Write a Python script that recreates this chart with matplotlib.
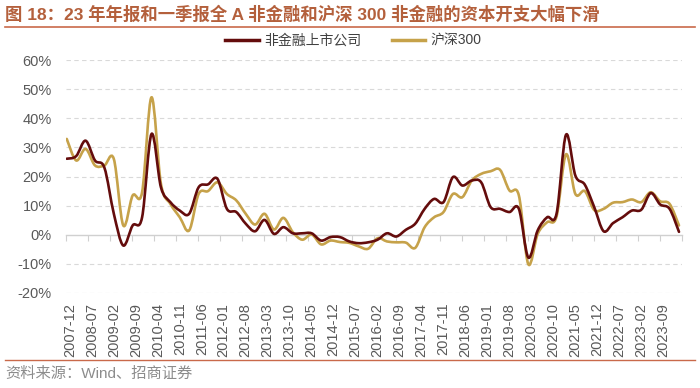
import numpy as np
import pandas as pd
import matplotlib
matplotlib.use("Agg")
import matplotlib.pyplot as plt
from matplotlib.path import Path
from matplotlib.patches import PathPatch
from matplotlib.lines import Line2D

plt.rcParams['font.family'] = ['Liberation Sans', 'Noto Sans CJK SC', 'DejaVu Sans']

# ---------------- data ----------------
dates = pd.date_range('2007-12-31', '2024-03-31', freq='QE')
nonfin = [26.1, 27.0, 32.3, 25.5, 23.0, 7.2, -3.7, 3.2, 6.0, 34.6,
          16.3, 11.2, 8.3, 7.2, 16.3, 17.3, 19.2, 8.9, 7.8, 3.8,
          1.2, 5.1, 0.3, 2.6, 0.5, 0.5, 0.5, -2.0, -0.8, -0.8,
          -2.3, -2.9, -2.6, -1.7, 0.5, -0.6, 1.7, 3.8, 8.9, 12.3,
          11.2, 19.8, 16.9, 18.6, 18.0, 9.5, 8.9, 7.8, 8.9, -7.8,
          1.5, 6.0, 7.2, 34.3, 20.3, 17.2, 9.5, 1.2, 4.0, 6.0,
          8.3, 8.6, 14.3, 10.4, 8.9, 1.0]
hs300 = [32.9, 25.5, 29.5, 23.8, 23.8, 26.0, 3.2, 13.5, 14.6, 47.2,
         17.5, 10.6, 6.0, 1.5, 14.0, 15.0, 18.0, 14.0, 11.8, 7.2,
         3.5, 7.2, 1.8, 5.8, 0.9, -1.7, 0.1, -3.3, -2.0, -2.5,
         -2.8, -4.0, -4.8, -1.2, -2.3, -2.6, -2.7, -4.5, 2.6, 6.0,
         7.8, 14.0, 12.9, 18.6, 20.9, 21.8, 22.3, 15.2, 13.5, -10.1,
         0.3, 4.3, 6.3, 27.6, 14.0, 15.0, 8.5, 8.9, 11.0, 11.2,
         12.1, 11.2, 14.6, 11.5, 10.6, 3.2]
series_names = ['非金融上市公司', '沪深300']
tick_labels = ['2007-12', '2008-07', '2009-02', '2009-09', '2010-04', '2010-11',
               '2011-06', '2012-01', '2012-08', '2013-03', '2013-10', '2014-05',
               '2014-12', '2015-07', '2016-02', '2016-09', '2017-04', '2017-11',
               '2018-06', '2019-01', '2019-08', '2020-03', '2020-10', '2021-05',
               '2021-12', '2022-07', '2023-02', '2023-09']

title = '图 18：23 年年报和一季报全 A 非金融和沪深 300 非金融的资本开支大幅下滑'
source = '资料来源：Wind、招商证券'

# ---------------- helpers ----------------
def month_index(ts):
    return (ts.year - 2007) * 12 + ts.month - 12

def smooth_path(x, y):
    x = np.asarray(x, float); y = np.asarray(y, float)
    n = len(x)
    verts = [(x[0], y[0])]
    codes = [Path.MOVETO]
    for i in range(n - 1):
        i0 = max(i - 1, 0); i3 = min(i + 2, n - 1)
        c1 = (x[i] + (x[i + 1] - x[i0]) / 6.0, y[i] + (y[i + 1] - y[i0]) / 6.0)
        c2 = (x[i + 1] - (x[i3] - x[i]) / 6.0, y[i + 1] - (y[i3] - y[i]) / 6.0)
        verts += [c1, c2, (x[i + 1], y[i + 1])]
        codes += [Path.CURVE4] * 3
    return Path(verts, codes)

xm = np.array([month_index(d) for d in dates])
label_months = [month_index(pd.Timestamp(t + '-01')) for t in tick_labels]

# ---------------- figure ----------------
fig = plt.figure(figsize=(7.0, 3.88), dpi=100)
W, H = 700, 388
x0, x1 = -0.3, 195.8
ax = fig.add_axes([65.8 / W, 95 / H, (681.5 - 65.8) / W, 233 / H])
ax.set_xlim(x0, x1)
ax.set_ylim(-20, 60)

c_dark = '#640C0C'
c_gold = '#C6A24A'
lw = 1.9
for vals, col, z in [(hs300, c_gold, 3), (nonfin, c_dark, 4)]:
    ax.add_patch(PathPatch(smooth_path(xm, vals), fill=False, edgecolor=col,
                           lw=lw, zorder=z, capstyle='round', joinstyle='round'))

for s in ax.spines.values():
    s.set_visible(False)

yt = np.arange(-20, 61, 10)
ax.set_yticks(yt)
ax.set_yticklabels([f'{v}%' for v in yt])
ax.tick_params(axis='y', length=0, pad=10, labelsize=10.5, labelcolor='#595959')
for v in yt:
    if v != 0:
        ax.axhline(v, color='#D9D9D9', lw=0.8, ls=(0, (4, 3)), zorder=1)

ax.set_xticks([m + 1.0 for m in label_months])
ax.set_xticklabels(tick_labels, rotation=90)
ax.tick_params(axis='x', length=0, pad=7, labelsize=10.5, labelcolor='#595959')

# zero axis line with tick marks
sec = ax.secondary_xaxis(0.25)
sec.set_xticks([m - 0.2 for m in label_months] + [195.8])
sec.set_xticklabels([])
sec.tick_params(axis='x', length=4, width=0.8, color='#D0D0D0', direction='out')
sec.spines['bottom'].set_color('#D0D0D0')
sec.spines['bottom'].set_linewidth(1.0)
sec.spines['bottom'].set_zorder(2)

# legend
handles = [Line2D([0], [0], color=c_dark, lw=2.5), Line2D([0], [0], color=c_gold, lw=2.5)]
fig.legend(handles, series_names, loc='center', bbox_to_anchor=(0.505, 1 - 41 / H),
           ncol=2, frameon=False, fontsize=10, handlelength=2.4, handletextpad=0.4,
           columnspacing=2.2, labelcolor='#404040')

# title and decorations
fig.text(5 / W, 1 - 14 / H, title, fontsize=12.5, fontweight='bold', color='#B4603C',
         ha='left', va='center')
line_col = '#C9694A'
fig.add_artist(Line2D([5 / W, 695 / W], [1 - 27 / H, 1 - 27 / H], color=line_col, lw=1.2,
                      transform=fig.transFigure))
fig.add_artist(Line2D([5 / W, 695 / W], [1 - 360 / H, 1 - 360 / H], color=line_col, lw=1.0,
                      transform=fig.transFigure))
fig.text(5 / W, 1 - 374 / H, source, fontsize=11, color='#8C8C8C', ha='left', va='center')

fig.savefig('out.png', dpi=100)
